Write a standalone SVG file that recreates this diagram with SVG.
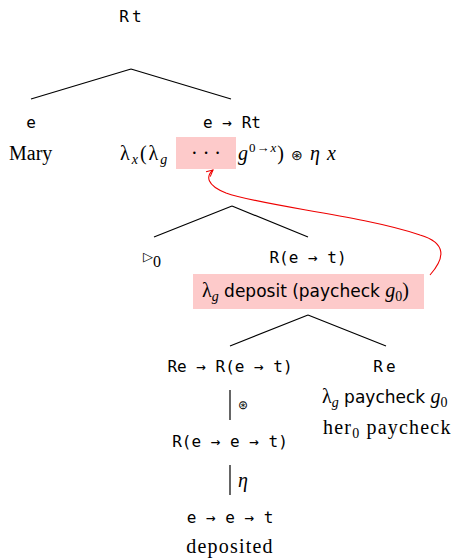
<svg xmlns="http://www.w3.org/2000/svg" width="452" height="559" viewBox="0 0 452 559">
<style>
.tt{font-family:"DejaVu Sans Mono",monospace;font-size:16px;fill:#000;}
.rm{font-family:"Liberation Serif",serif;font-size:20px;fill:#000;}
.it{font-style:italic;}
.sf{font-family:"DejaVu Sans","Liberation Sans",sans-serif;font-size:17px;}
.ln{stroke:#000;stroke-width:1.2;fill:none;}
.hl{fill:#fdcaca;}
</style>
<defs>
<marker id="ah" viewBox="0 0 10 10" refX="9" refY="5" markerWidth="8" markerHeight="8" orient="auto" markerUnits="userSpaceOnUse">
<path d="M1,1 L9,5 L1,9" fill="none" stroke="#e00" stroke-width="1.3"/>
</marker>
</defs>
<g id="connectors">
<path class="ln" d="M131,69 L31,99 M131,69 L231,99"/>
<path class="ln" d="M232,206 L154,237 M232,206 L308,237"/>
<path class="ln" d="M308,315 L230,346 M308,315 L386,346"/>
<path class="ln" d="M230,390 L230,420 M230,465 L230,495"/>
<text class="rm" transform="translate(238,409) scale(0.6)" font-size="16">⊛</text>
<text class="rm it" x="238" y="487" font-size="15">η</text>
<path d="M430,275 C445,258 447,243 420,235 C360,215 262,206 226,193 C206,185 206,176 213,170" fill="none" stroke="#e00" stroke-width="1.1" marker-end="url(#ah)"/>
</g>
<g id="root">
<text class="tt" x="132" y="22" text-anchor="middle" letter-spacing="3">Rt</text>
</g>
<g id="mary">
<text class="tt" x="31" y="128" text-anchor="middle">e</text>
<text class="rm" x="9" y="160">Mary</text>
</g>
<g id="vp">
<text class="tt" x="232" y="128" text-anchor="middle">e → Rt</text>
<rect class="hl" x="176" y="137" width="60" height="32"/>
<text class="rm" x="120" y="160" letter-spacing="2">λ<tspan class="it" font-size="14" dy="4">x</tspan><tspan dy="-4">(λ</tspan><tspan class="it" font-size="14" dy="4">g</tspan></text>
<text class="rm" x="206" y="160" text-anchor="middle">· · ·</text>
<text class="rm" x="238" y="160" letter-spacing="1"><tspan class="it">g</tspan><tspan font-size="13" dy="-8">0→<tspan class="it">x</tspan></tspan><tspan dy="8">) </tspan><tspan font-size="14">⊛</tspan> <tspan class="it">η x</tspan></text>
</g>
<g id="pron">
<text class="rm" transform="translate(143,261) scale(0.65)" font-size="16">▷</text>
<text class="rm" transform="translate(153,267) scale(0.8)" font-size="16">0</text>
</g>
<g id="rvp">
<text class="tt" x="308" y="263" text-anchor="middle">R(e → t)</text>
<rect class="hl" x="193" y="274" width="231" height="35"/>
<text class="rm" x="202" y="297">λ<tspan class="it" font-size="14" dy="4">g</tspan><tspan class="sf" dy="-4"> deposit (paycheck </tspan><tspan class="it">g</tspan><tspan font-size="14" dy="4">0</tspan><tspan dy="-4">)</tspan></text>
</g>
<g id="verb">
<text class="tt" x="230" y="372" text-anchor="middle">Re → R(e → t)</text>
<text class="tt" x="230" y="447" text-anchor="middle">R(e → e → t)</text>
<text class="tt" x="230" y="523" text-anchor="middle">e → e → t</text>
<text class="rm" x="230" y="553" text-anchor="middle" letter-spacing="1.2">deposited</text>
</g>
<g id="obj">
<text class="tt" x="386" y="372" text-anchor="middle" letter-spacing="3">Re</text>
<text class="rm" x="322" y="403">λ<tspan class="it" font-size="14" dy="4">g</tspan><tspan class="sf" dy="-4"> paycheck </tspan><tspan class="it">g</tspan><tspan font-size="14" dy="4">0</tspan></text>
<text class="rm" x="323" y="434" letter-spacing="1.2">her<tspan font-size="14" dy="4">0</tspan><tspan dy="-4"> paycheck</tspan></text>
</g>
</svg>
